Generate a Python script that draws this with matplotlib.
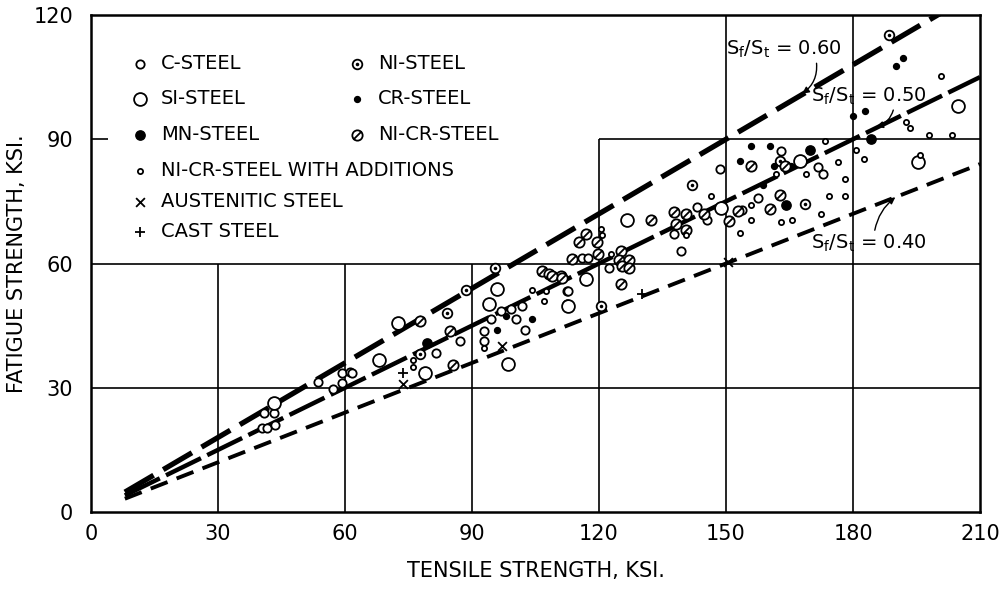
import numpy as np
import matplotlib
matplotlib.use("Agg")
import matplotlib.pyplot as plt
from matplotlib.path import Path

plt.rcParams['font.family'] = ['DejaVu Sans']
plt.rcParams['lines.scale_dashes'] = False

# ---------------- data ----------------
c_steel_x = [40.9, 43.3, 40.5, 41.6, 43.5, 53.7, 57.2, 59.3, 59.3, 61.2, 61.6, 81.6, 87.1,
             96.9, 99.3, 101.9, 100.5, 94.6, 92.9, 92.9, 102.6, 112.5, 112.5, 116.0, 117.4,
             122.4, 143.1, 145.4, 137.6, 139.3, 148.7, 163.1, 171.8, 172.9, 157.6, 153.7, 112.7]
c_steel_y = [23.9, 23.9, 20.3, 20.3, 21.0, 31.3, 29.6, 31.1, 33.5, 33.7, 33.5, 38.5, 41.3,
             48.5, 49.0, 49.7, 46.6, 46.6, 43.7, 41.3, 44.0, 50.2, 53.3, 61.4, 61.4,
             58.8, 73.6, 70.5, 67.2, 63.1, 82.7, 87.2, 83.2, 81.5, 75.8, 72.9, 53.3]

si_steel_x = [43.3, 72.5, 68.0, 78.8, 95.8, 94.1, 98.4, 126.6, 116.9, 112.7, 148.9, 167.5,
              204.7, 195.3]
si_steel_y = [26.3, 45.6, 36.8, 33.5, 53.8, 50.2, 35.8, 70.5, 56.2, 49.7, 73.4, 84.8,
              98.0, 84.4]

mn_steel_x = [79.3, 169.9, 164.2, 184.2]
mn_steel_y = [40.9, 87.5, 74.1, 90.1]

ni_steel_x = [95.5, 88.5, 84.2, 77.6, 141.9, 162.8, 168.7, 188.5, 120.5]
ni_steel_y = [58.8, 53.5, 48.0, 38.2, 78.9, 84.8, 74.3, 115.2, 49.7]

cr_steel_x = [98.1, 104.2, 96.0, 153.4, 191.8, 190.1, 180.0, 182.8, 156.0, 160.5, 161.4,
              165.4, 158.8]
cr_steel_y = [47.3, 46.6, 44.0, 84.8, 109.5, 107.8, 95.6, 96.8, 88.4, 88.4, 83.6,
              83.6, 78.9]

nicr_steel_x = [77.6, 84.7, 85.4, 106.6, 108.2, 111.1, 116.9, 115.3, 119.5, 113.6, 119.8,
                125.2, 124.7, 127.1, 125.4, 127.1, 125.2, 108.9, 111.3, 132.2, 137.6,
                140.5, 144.7, 138.1, 140.5, 152.9, 150.6, 156.0, 164.0, 162.8, 160.5]
nicr_steel_y = [46.1, 43.7, 35.4, 58.1, 57.4, 56.9, 67.2, 65.2, 65.2, 61.2, 62.4,
                62.9, 60.9, 60.9, 59.3, 58.8, 55.0, 56.9, 56.6, 70.5, 72.4,
                71.9, 71.9, 69.5, 68.1, 72.7, 70.3, 83.6, 83.6, 76.5, 73.1]

nicr_add_x = [76.0, 76.0, 92.9, 104.2, 107.1, 107.5, 120.5, 120.7, 122.8, 146.4, 155.8,
              156.0, 153.4, 140.5, 200.7, 192.5, 193.4, 197.9, 203.5, 195.8, 173.4,
              180.7, 182.6, 176.5, 178.1, 178.1, 168.9, 161.7, 174.4, 172.5, 163.1, 165.6]
nicr_add_y = [36.6, 34.9, 39.7, 53.5, 50.9, 53.3, 68.4, 66.9, 62.4, 76.2, 74.1,
              70.5, 67.4, 66.9, 105.2, 94.2, 92.7, 91.1, 91.1, 86.3, 89.6,
              87.5, 85.3, 84.6, 80.3, 76.2, 81.5, 81.5, 76.2, 71.9, 70.0, 70.5]

aust_x = [73.6, 97.2, 150.5]
aust_y = [31.0, 40.2, 60.3]

cast_x = [73.8, 130.1]
cast_y = [33.5, 52.6]

ratios = [0.60, 0.50, 0.40]
ratio_labels = ["0.60", "0.50", "0.40"]
line_x = [8, 210]

x_ticks = [0, 30, 60, 90, 120, 150, 180, 210]
y_ticks = [0, 30, 60, 90, 120]

# grid extents (the grid is left open behind the legend block)
vgrid_x = [30, 60, 90, 120, 150, 180]
vgrid_top = [60, 60, 60, 90, 120, 120]
hgrid_y = [30, 60, 90]
hgrid_start = [0, 0, 120]

# ---------------- figure ----------------
fig = plt.figure(figsize=(10.05, 5.92), dpi=100)
ax = fig.add_axes([91 / 1005, 1 - 512 / 592, 889 / 1005, 497 / 592])
ax.set_xlim(0, 210)
ax.set_ylim(0, 120)

ax.set_xticks(x_ticks)
ax.set_yticks(y_ticks)
ax.tick_params(length=0, labelsize=15, pad=9)
ax.tick_params(axis='y', pad=13)
for s in ax.spines.values():
    s.set_linewidth(1.8)

ax.vlines(vgrid_x, 0, vgrid_top, colors='black', linewidth=1.2, zorder=1)
ax.hlines(hgrid_y, hgrid_start, 210, colors='black', linewidth=1.2, zorder=1)
ax.hlines([90], 0, 4, colors='black', linewidth=1.2, zorder=1)

# reference lines
styles = [dict(lw=3.8, dashes=(24, 8)),
          dict(lw=3.2, dashes=(28, 5)),
          dict(lw=2.8, dashes=(13, 7))]
for r, st in zip(ratios, styles):
    xs = np.array(line_x, dtype=float)
    ys = r * xs
    ax.plot(xs, ys, color='black', dash_capstyle='butt',
            linestyle='--', linewidth=st['lw'], dashes=st['dashes'], zorder=2)

# custom markers
circ = Path.unit_circle()
slash = Path([(-0.8, -0.8), (0.8, 0.8)], [Path.MOVETO, Path.LINETO])
slash_marker = Path.make_compound_path(circ, slash)
dot = Path(circ.vertices * 0.18, circ.codes)
dot_marker = Path.make_compound_path(circ, dot)

kw_open = dict(facecolors='white', edgecolors='black', linewidths=1.3, zorder=3)
h_c = ax.scatter(c_steel_x, c_steel_y, s=36, marker='o', label='C-STEEL', **kw_open)
h_si = ax.scatter(si_steel_x, si_steel_y, s=85, marker='o', label='SI-STEEL', **kw_open)
h_mn = ax.scatter(mn_steel_x, mn_steel_y, s=45, marker='o', color='black', zorder=3,
                  label='MN-STEEL')
h_ni = ax.scatter(ni_steel_x, ni_steel_y, s=48, marker=dot_marker, label='NI-STEEL', **kw_open)
h_cr = ax.scatter(cr_steel_x, cr_steel_y, s=18, marker='o', color='black', zorder=3,
                  label='CR-STEEL')
h_nicr = ax.scatter(nicr_steel_x, nicr_steel_y, s=55, marker=slash_marker,
                    label='NI-CR-STEEL', **kw_open)
h_add = ax.scatter(nicr_add_x, nicr_add_y, s=14, marker='o',
                   label='NI-CR-STEEL WITH ADDITIONS', **kw_open)
h_au = ax.scatter(aust_x, aust_y, s=40, marker='x', color='black', linewidths=1.3,
                  zorder=3, label='AUSTENITIC STEEL')
h_ca = ax.scatter(cast_x, cast_y, s=60, marker='+', color='black', linewidths=1.3,
                  zorder=3, label='CAST STEEL')

leg_kw = dict(frameon=False, fontsize=14, handlelength=1.0, handletextpad=0.6,
              borderpad=0, borderaxespad=0, loc='upper left')
leg1 = ax.legend(handles=[h_c, h_si, h_mn, h_ni, h_cr, h_nicr], ncol=2,
                 columnspacing=4.5, labelspacing=0.85,
                 bbox_to_anchor=(0.044, 0.922), **leg_kw)
ax.add_artist(leg1)
ax.legend(handles=[h_add, h_au, h_ca], labelspacing=0.6,
          bbox_to_anchor=(0.044, 0.706), **leg_kw)

# annotations
def lab(v):
    return r"S$_\mathregular{f}$/S$_\mathregular{t}$ = " + v

ax.annotate(lab(ratio_labels[0]), xy=(168.0, 101.0), xytext=(150.0, 110.3),
            fontsize=14, ha='left', va='baseline',
            arrowprops=dict(arrowstyle='-|>', color='black', lw=1.0, mutation_scale=10,
                            shrinkA=0, shrinkB=0, connectionstyle='arc3,rad=-0.3',
                            relpos=(0.78, 0.0)))
ax.annotate(lab(ratio_labels[1]), xy=(185.5, 93.0), xytext=(170.0, 99.0),
            fontsize=14, ha='left', va='baseline',
            arrowprops=dict(arrowstyle='-|>', color='black', lw=1.0, mutation_scale=10,
                            shrinkA=0, shrinkB=0, connectionstyle='arc3,rad=-0.3',
                            relpos=(0.72, 0.0)))
ax.annotate(lab(ratio_labels[2]), xy=(190.0, 76.0), xytext=(170.0, 63.5),
            fontsize=14, ha='left', va='baseline',
            arrowprops=dict(arrowstyle='-|>', color='black', lw=1.0, mutation_scale=10,
                            shrinkA=0, shrinkB=0, connectionstyle='arc3,rad=-0.2',
                            relpos=(0.55, 1.0)))

ax.set_xlabel('TENSILE STRENGTH, KSI.', fontsize=15, labelpad=12)
ax.set_ylabel('FATIGUE STRENGTH, KSI.', fontsize=15)
ax.yaxis.set_label_coords(-0.072, 0.5)

fig.savefig('out.png', dpi=100)
